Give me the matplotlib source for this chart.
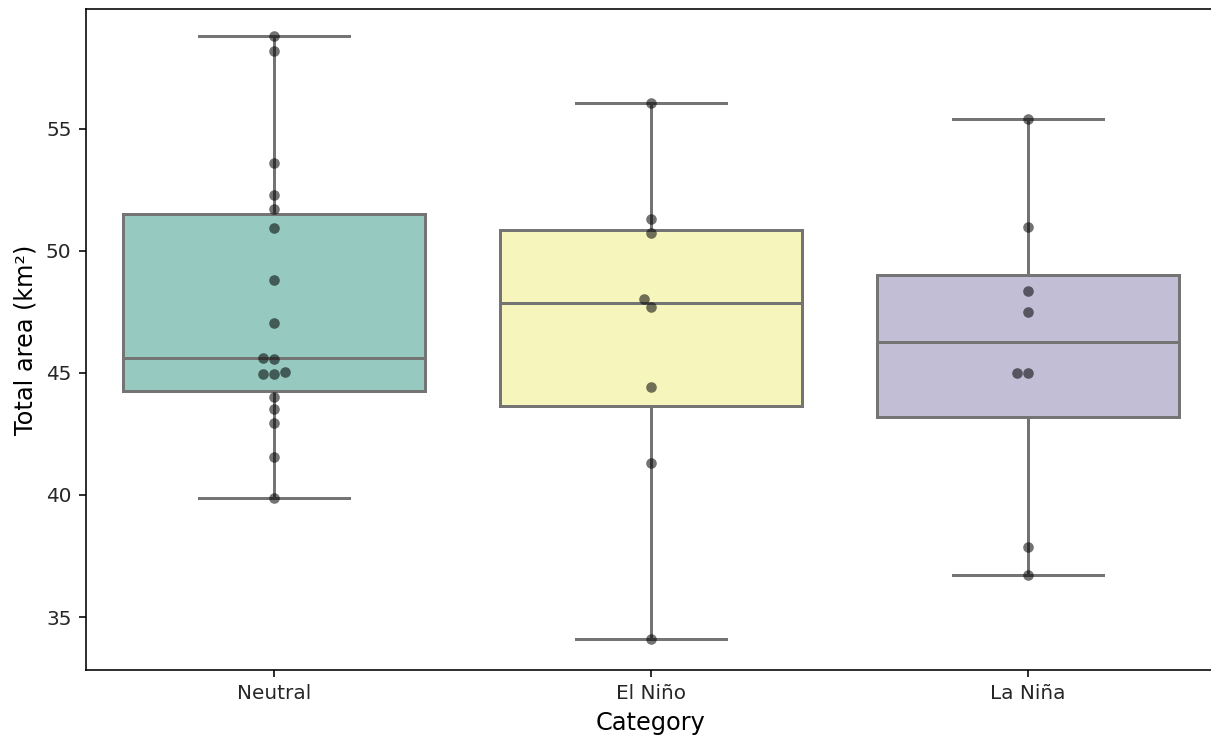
import numpy as np
import pandas as pd
import matplotlib
matplotlib.use("Agg")
import matplotlib.pyplot as plt
import seaborn as sns

# Total area per year, grouped by ENSO phase
categories = ["Neutral", "El Niño", "La Niña"]
neutral = [58.81, 58.16, 53.61, 52.30, 51.72, 50.94, 48.81, 47.06, 45.60,
           45.58, 45.05, 44.96, 44.94, 44.03, 43.51, 42.96, 41.57, 39.86]
el_nino = [56.05, 51.30, 50.72, 48.03, 47.69, 44.41, 41.30, 34.09]
la_nina = [55.41, 50.96, 48.36, 47.51, 44.99, 44.99, 37.86, 36.72]

df = pd.DataFrame({
    "Category": (["Neutral"] * len(neutral) + ["El Niño"] * len(el_nino)
                 + ["La Niña"] * len(la_nina)),
    "Total area": neutral + el_nino + la_nina,
})

plt.rcParams["font.family"] = ["DejaVu Sans"]
fig = plt.figure(figsize=(1211 / 144, 743 / 144), dpi=144)
ax = fig.add_axes([85.5 / 1211, 73 / 743, 1131 / 1211, 661 / 743])

sns.boxplot(data=df, x="Category", y="Total area", order=categories,
            hue="Category", hue_order=categories, palette="Set3",
            legend=False, saturation=0.75, width=0.8, whis=1.5,
            linewidth=1.5, linecolor="#747474", showfliers=False, ax=ax)
sns.swarmplot(data=df, x="Category", y="Total area", order=categories,
              color="black", alpha=0.55, size=5.3, ax=ax)

ax.set_xlim(-0.5, 2.5)
ax.set_ylim(32.83, 59.9)
ax.spines["right"].set_visible(False)
ax.set_xlabel("Category", fontsize=12)
ax.set_ylabel("Total area (km²)", fontsize=12)
ax.tick_params(labelsize=10, labelcolor="#262626")

fig.savefig("out.png", dpi=144)
